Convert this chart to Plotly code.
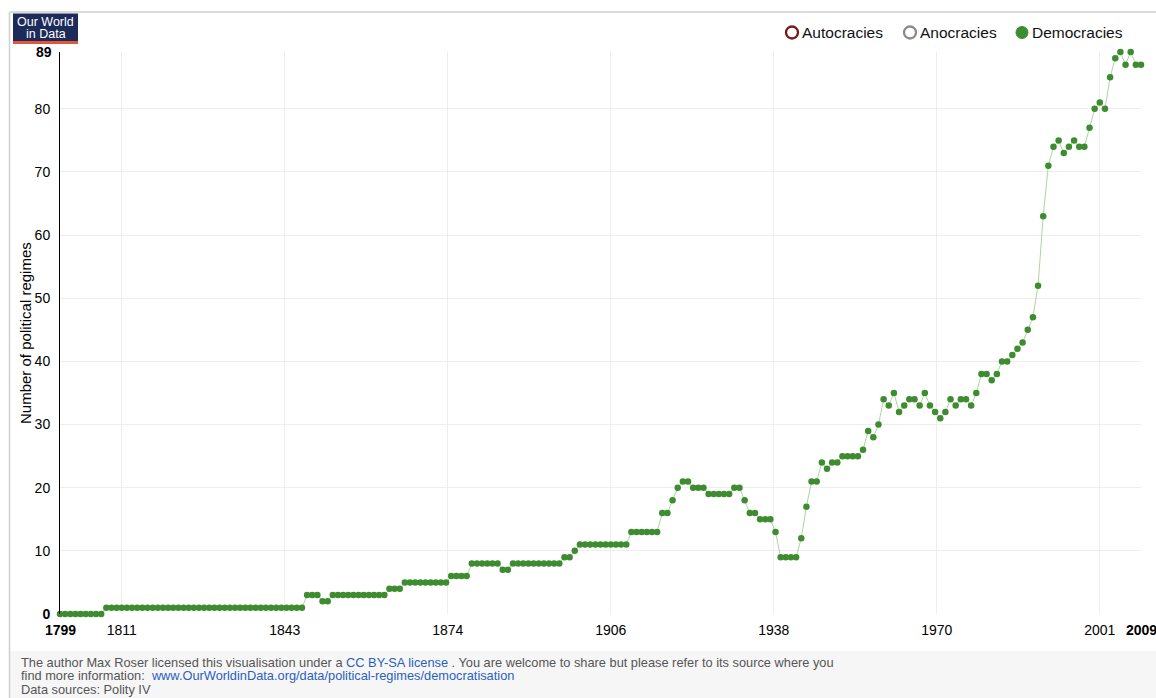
import plotly.graph_objects as go

# ---------------- data ----------------
years = list(range(1799, 2010))
democracies = [
    0, 0, 0, 0, 0, 0, 0, 0, 0, 1,          # 1799-1808
    1, 1, 1, 1, 1, 1, 1, 1, 1, 1,          # 1809-1818
    1, 1, 1, 1, 1, 1, 1, 1, 1, 1,          # 1819-1828
    1, 1, 1, 1, 1, 1, 1, 1, 1, 1,          # 1829-1838
    1, 1, 1, 1, 1, 1, 1, 1, 3, 3,          # 1839-1848
    3, 2, 2, 3, 3, 3, 3, 3, 3, 3,          # 1849-1858
    3, 3, 3, 3, 4, 4, 4, 5, 5, 5,          # 1859-1868
    5, 5, 5, 5, 5, 5, 6, 6, 6, 6,          # 1869-1878
    8, 8, 8, 8, 8, 8, 7, 7, 8, 8,          # 1879-1888
    8, 8, 8, 8, 8, 8, 8, 8, 9, 9,          # 1889-1898
    10, 11, 11, 11, 11, 11, 11, 11, 11, 11,  # 1899-1908
    11, 13, 13, 13, 13, 13, 13, 16, 16, 18,  # 1909-1918
    20, 21, 21, 20, 20, 20, 19, 19, 19, 19,  # 1919-1928
    19, 20, 20, 18, 16, 16, 15, 15, 15, 13,  # 1929-1938
    9, 9, 9, 9, 12, 17, 21, 21, 24, 23,      # 1939-1948
    24, 24, 25, 25, 25, 25, 26, 29, 28, 30,  # 1949-1958
    34, 33, 35, 32, 33, 34, 34, 33, 35, 33,  # 1959-1968
    32, 31, 32, 34, 33, 34, 34, 33, 35, 38,  # 1969-1978
    38, 37, 38, 40, 40, 41, 42, 43, 45, 47,  # 1979-1988
    52, 63, 71, 74, 75, 73, 74, 75, 74, 74,  # 1989-1998
    77, 80, 81, 80, 85, 88, 89, 87, 89, 87,  # 1999-2008
    87,                                      # 2009
]

x_tick_labels = ["1811", "1843", "1874", "1906", "1938", "1970", "2001"]
x_edge_labels = ["1799", "2009"]
y_tick_values = [0, 10, 20, 30, 40, 50, 60, 70, 80]
y_max = 89

series_names = ["Autocracies", "Anocracies", "Democracies"]
series_colors = ["#7a1717", "#8a8a8a", "#3e8c30"]
series_filled = [False, False, True]

y_title = "Number of political regimes"
logo_lines = ["Our World", "in Data"]
footer_lines = [
    "The author Max Roser licensed this visualisation under a "
    "<span style='color:#2b5fc0'>CC BY-SA license</span> . You are welcome to share "
    "but please refer to its source where you",
    "find more information:  <span style='color:#2b5fc0'>"
    "www.OurWorldinData.org/data/political-regimes/democratisation</span>",
    "Data sources: Polity IV",
]

# ---------------- layout helpers ----------------
W, H = 1156, 698
L, R, T, B = 60, 15, 52, 84
PW, PH = W - L - R, H - T - B


def px(x):
    return (x - L) / PW


def py(y):
    return (H - B - y) / PH


FONT = "Liberation Sans, Arial, Helvetica, sans-serif"

fig = go.Figure()
fig.add_trace(go.Scatter(
    x=years, y=democracies, mode="lines+markers",
    line=dict(color="#acd6a2", width=1),
    marker=dict(color=series_colors[2], size=6.5, line=dict(width=0)),
    cliponaxis=False, showlegend=False, name=series_names[2],
))

n = len(x_tick_labels)
tick_pos = [int(x_tick_labels[0]) + i * (int(x_tick_labels[-1]) - int(x_tick_labels[0])) / (n - 1)
            for i in range(n)]

shapes = []
annotations = []

# outer frame lines
shapes.append(dict(type="line", xref="paper", yref="paper", x0=px(10), x1=px(W + 5),
                   y0=py(12), y1=py(12), line=dict(color="#cfcfcf", width=1.5)))
shapes.append(dict(type="line", xref="paper", yref="paper", x0=px(9.5), x1=px(9.5),
                   y0=py(12), y1=py(H + 5), line=dict(color="#cfcfcf", width=1.5)))
# footer band
shapes.append(dict(type="rect", xref="paper", yref="paper", x0=px(10.3), x1=px(W + 5),
                   y0=py(651), y1=py(H + 5), fillcolor="#f6f6f6", line=dict(width=0), layer="below"))

# logo
shapes.append(dict(type="rect", xref="paper", yref="paper", x0=px(13), x1=px(78),
                   y0=py(13.5), y1=py(41), fillcolor="#1c2b58", line=dict(width=0)))
shapes.append(dict(type="rect", xref="paper", yref="paper", x0=px(13), x1=px(78),
                   y0=py(41), y1=py(44), fillcolor="#e4553a", line=dict(width=0)))
for i, txt in enumerate(logo_lines):
    annotations.append(dict(xref="paper", yref="paper", x=px(45.5), y=py(22 + 12 * i), text=txt,
                            showarrow=False, xanchor="center", yanchor="middle",
                            borderpad=0, height=12,
                            font=dict(family=FONT, size=12.5, color="white")))

# legend (manual)
leg_circle_x = [792, 910, 1022]
for name, col, filled, cx in zip(series_names, series_colors, series_filled, leg_circle_x):
    shapes.append(dict(type="circle", xref="paper", yref="paper",
                       xsizemode="pixel", ysizemode="pixel",
                       xanchor=px(cx), yanchor=py(32.5),
                       x0=-6, x1=6, y0=-6, y1=6,
                       fillcolor=col if filled else "white",
                       line=dict(color=col, width=2.3 if not filled else 1)))
    annotations.append(dict(xref="paper", yref="paper", x=px(cx + 8), y=py(32.5), text=name,
                            showarrow=False, xanchor="left", yanchor="middle",
                            font=dict(family=FONT, size=15.5, color="#111")))

# bold edge labels
annotations.append(dict(xref="x", yref="paper", x=int(x_edge_labels[0]), y=0, yshift=-6,
                        text="<b>%s</b>" % x_edge_labels[0], showarrow=False,
                        xanchor="center", yanchor="top",
                        font=dict(family=FONT, size=14, color="#000")))
annotations.append(dict(xref="x", yref="paper", x=int(x_edge_labels[1]), y=0, yshift=-6,
                        text="<b>%s</b>" % x_edge_labels[1], showarrow=False,
                        xanchor="center", yanchor="top",
                        font=dict(family=FONT, size=14, color="#000")))
annotations.append(dict(xref="paper", yref="y", x=0, xshift=-6, y=y_max,
                        text="<b>%d</b>" % y_max, showarrow=False,
                        xanchor="right", yanchor="middle",
                        font=dict(family=FONT, size=14, color="#000")))

# y title
annotations.append(dict(xref="paper", yref="paper", x=px(25), y=0.5, text=y_title,
                        textangle=-90, showarrow=False, xanchor="center", yanchor="middle",
                        font=dict(family=FONT, size=15, color="#000")))

# footer text
for i, line in enumerate(footer_lines):
    annotations.append(dict(xref="paper", yref="paper", x=px(19), y=py(662 + 13.7 * i),
                            text=line, showarrow=False, xanchor="left", yanchor="middle",
                            align="left",
                            font=dict(family=FONT, size=12.8, color="#555")))

fig.update_layout(
    width=W, height=H,
    margin=dict(l=L, r=R, t=T, b=B, pad=0),
    paper_bgcolor="white", plot_bgcolor="white",
    font=dict(family=FONT, size=14, color="#000"),
    showlegend=False,
    shapes=shapes, annotations=annotations,
    xaxis=dict(range=[int(x_edge_labels[0]), int(x_edge_labels[1])],
               tickvals=tick_pos, ticktext=x_tick_labels,
               showgrid=True, gridcolor="#eeeeee", gridwidth=1,
               zeroline=False, showline=False, ticks="",
               ticklabelstandoff=6,
               tickfont=dict(family=FONT, size=14, color="#000")),
    yaxis=dict(range=[0, y_max],
               tickvals=y_tick_values,
               ticktext=["<b>0</b>"] + [str(v) for v in y_tick_values[1:]],
               showgrid=True, gridcolor="#eeeeee", gridwidth=1,
               zeroline=False, showline=True, linecolor="#000", linewidth=1,
               ticks="", ticklabelstandoff=6,
               tickfont=dict(family=FONT, size=14, color="#000")),
)

fig.write_html(
    "out.html",
    config={"displayModeBar": False},
    post_script="document.body.style.margin='0';document.body.style.padding='0';"
                "document.body.style.overflow='hidden';",
)
